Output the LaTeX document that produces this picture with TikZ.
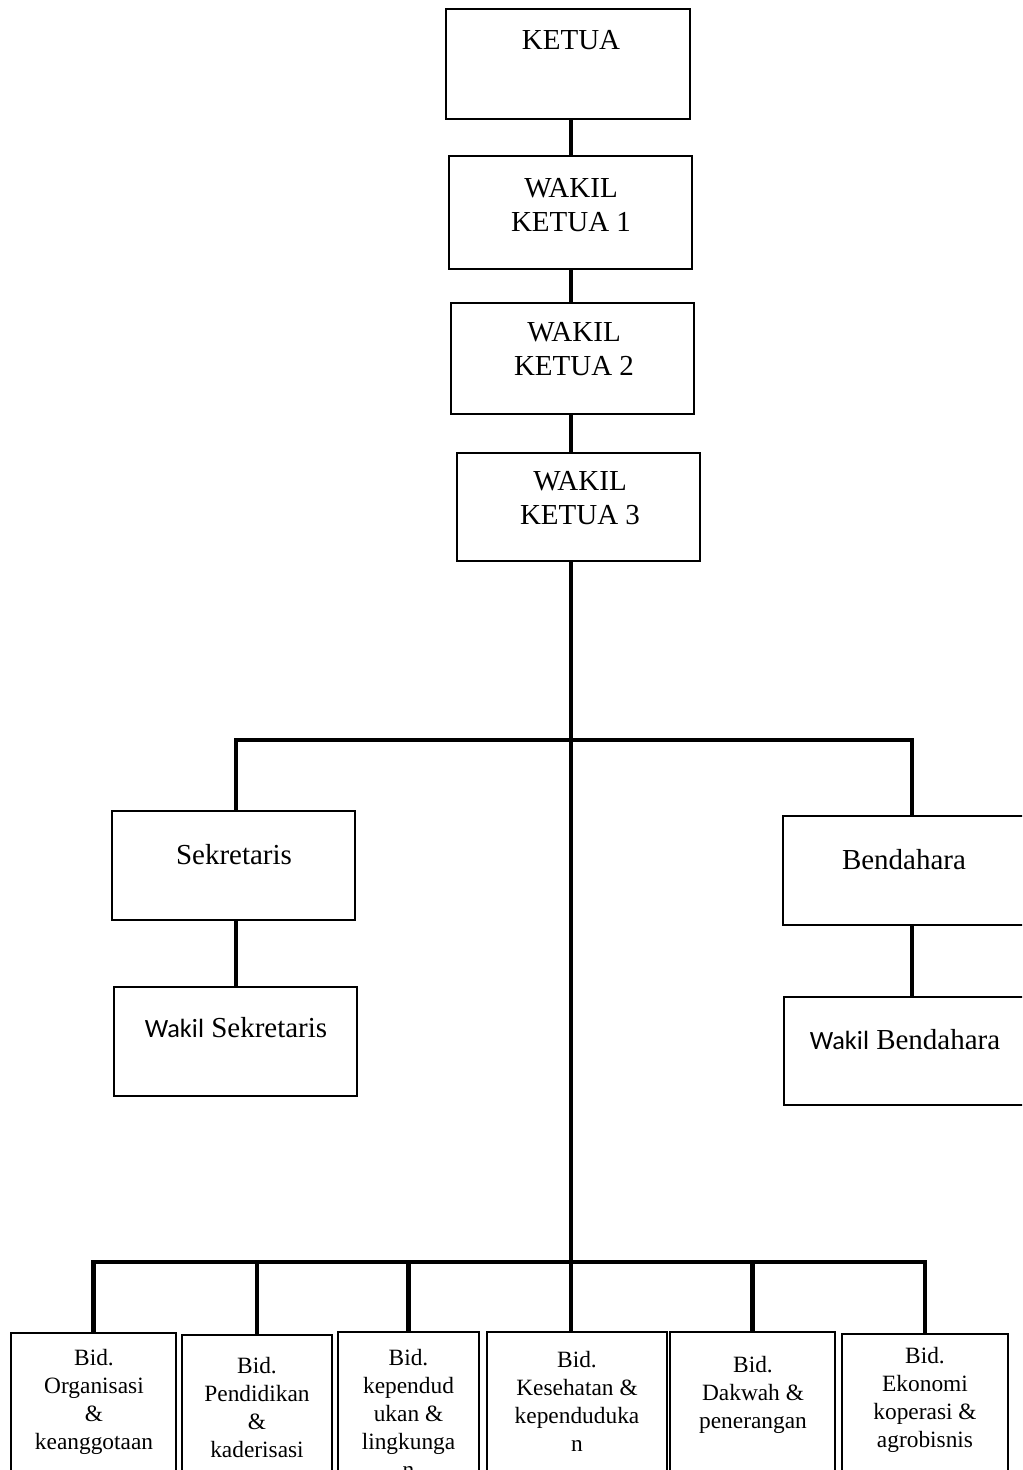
\documentclass[tikz,border=0pt]{standalone}
\usepackage{fontspec}
\setmainfont{Liberation Serif}
\setsansfont{Carlito}

\begin{document}
\begin{tikzpicture}[x=0.02cm, y=-0.02cm,
  kotak/.style={draw, line width=1.3pt, inner sep=0pt},
  garis/.style={line width=2.3pt},
  teks/.style={inner sep=0pt, align=center, font=\fontsize{16.5}{19.4}\selectfont},
  teksbid/.style={inner sep=0pt, align=center, font=\fontsize{13.3}{15.9}\selectfont}]
  \useasboundingbox (0,0) rectangle (1022,1470);
  \clip (0,0) rectangle (1022,1470);
  % ketua dan wakil ketua
  \node[kotak, anchor=north, minimum width=4.88cm, minimum height=2.2cm] (ketua) at (568,8) {};
  \node[kotak, anchor=north, minimum width=4.86cm, minimum height=2.26cm] (wk1) at (570.5,155) {};
  \node[kotak, anchor=north, minimum width=4.86cm, minimum height=2.22cm] (wk2) at (572.5,302) {};
  \node[kotak, anchor=north, minimum width=4.86cm, minimum height=2.16cm] (wk3) at (578.5,452) {};
  % sekretaris dan bendahara
  \node[kotak, anchor=north, minimum width=4.86cm, minimum height=2.18cm] (sek) at (233.5,810) {};
  \node[kotak, anchor=north, minimum width=4.86cm, minimum height=2.18cm] (wsek) at (235.5,986) {};
  \node[kotak, anchor=north west, minimum width=5cm, minimum height=2.18cm] (bend) at (782,815) {};
  \node[kotak, anchor=north west, minimum width=5cm, minimum height=2.16cm] (wbend) at (783,996) {};
  % bidang
  \node[kotak, anchor=north, minimum width=3.3cm, minimum height=3.2cm] (b1) at (93.5,1332) {};
  \node[kotak, anchor=north, minimum width=3cm, minimum height=3.2cm] (b2) at (257,1334) {};
  \node[kotak, anchor=north, minimum width=2.82cm, minimum height=3.2cm] (b3) at (408.5,1331) {};
  \node[kotak, anchor=north, minimum width=3.6cm, minimum height=3.2cm] (b4) at (577,1331) {};
  \node[kotak, anchor=north, minimum width=3.3cm, minimum height=3.2cm] (b5) at (752.5,1331) {};
  \node[kotak, anchor=north, minimum width=3.32cm, minimum height=3.2cm] (b6) at (925,1333) {};
  % garis
  \coordinate (bus1) at (571,740);
  \coordinate (bus1L) at (236,740);
  \coordinate (bus1R) at (912,740);
  \coordinate (bus2) at (571,1262);
  \draw[garis] (ketua.south -| bus1) -- (wk1.north -| bus1);
  \draw[garis] (wk1.south -| bus1) -- (wk2.north -| bus1);
  \draw[garis] (wk2.south -| bus1) -- (wk3.north -| bus1);
  \draw[garis] (wk3.south -| bus1) -- (bus2);
  \draw[garis] (sek.north -| bus1L) -- (bus1L) -- (bus1R) -- (bend.north -| bus1R);
  \draw[garis] (sek.south -| bus1L) -- (wsek.north -| bus1L);
  \draw[garis] (bend.south -| bus1R) -- (wbend.north -| bus1R);
  \draw[garis] (b1.north) -- (b1.north |- bus2) -- (b6.north |- bus2) -- (b6.north);
  \draw[garis] (b2.north |- bus2) -- (b2.north);
  \draw[garis] (b3.north |- bus2) -- (b3.north);
  \draw[garis] (bus2) -- (bus2 |- b4.north);
  \draw[garis] (b5.north |- bus2) -- (b5.north);
  % teks
  \node[teks] (tketua) at (571,40) {KETUA};
  \node[teks] (twk1) at (571,205) {WAKIL\\KETUA 1};
  \node[teks] (twk2) at (574,349.5) {WAKIL\\KETUA 2};
  \node[teks] (twk3) at (580,498) {WAKIL\\KETUA 3};
  \node[teks] (tsek) at (234,855) {Sekretaris};
  \node[teks] (twsek) at (236,1028) {{\sffamily\fontsize{15}{18}\selectfont Wakil} Sekretaris};
  \node[teks] (tbend) at (904,860) {Bendahara};
  \node[teks] (twbend) at (905,1040) {{\sffamily\fontsize{15}{18}\selectfont Wakil} Bendahara};
  \node[teksbid] (tb1) at (94,1401.5) {Bid.\\Organisasi\\\&\\keanggotaan};
  \node[teksbid] (tb2) at (257,1407.5) {Bid.\\Pendidikan\\\&\\kaderisasi};
  \node[teksbid] (tb3) at (408.5,1413.5) {Bid.\\kependud\\ukan \&\\lingkunga\\n};
  \node[teksbid] (tb4) at (577,1401) {Bid.\\Kesehatan \&\\kependuduka\\n};
  \node[teksbid] (tb5) at (753,1395) {Bid.\\Dakwah \&\\penerangan};
  \node[teksbid] (tb6) at (925,1400) {Bid.\\Ekonomi\\koperasi \&\\agrobisnis};
\end{tikzpicture}
\end{document}
